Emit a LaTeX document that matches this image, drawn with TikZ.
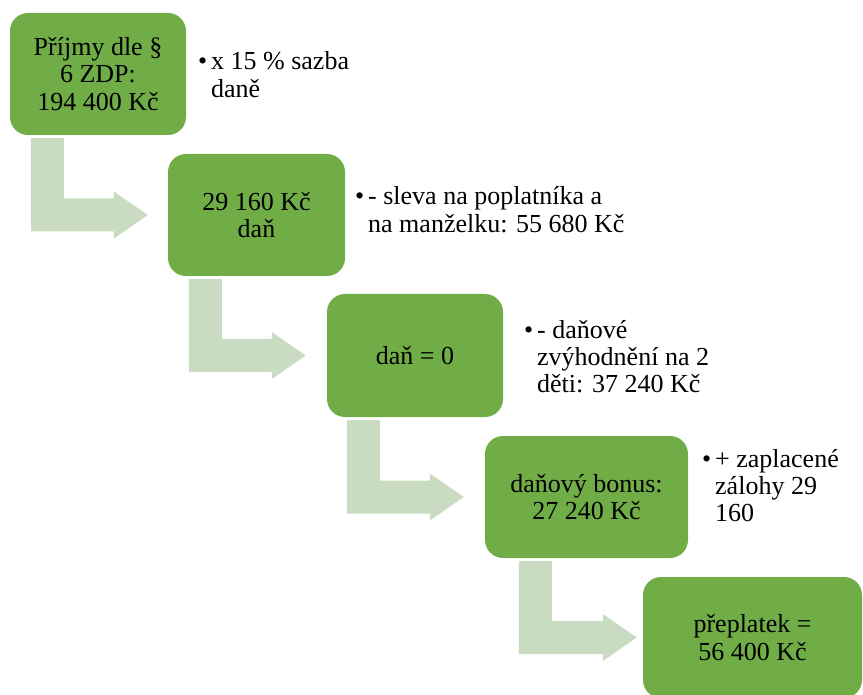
\documentclass[tikz,border=0pt]{standalone}
\usepackage{fontspec}
\setmainfont{Liberation Serif}
\usetikzlibrary{calc}

\definecolor{stepgreen}{HTML}{70AD47}
\definecolor{arrowtint}{HTML}{C9DCC1}

\tikzset{
  stepbox/.style={fill=stepgreen, rounded corners=18pt, inner sep=0pt,
    align=center, text=black, font=\fontsize{26}{27.5}\selectfont},
  note/.style={anchor=base west, inner sep=0pt, text=black,
    font=\fontsize{26}{27.5}\selectfont},
  bendfill/.style={fill=arrowtint}
}

% left-aligned lines whose baseline is the first line's
\newcommand\notelines[1]{\begin{tabular}[t]{@{}l@{}}#1\end{tabular}}
\newcommand\bul{\llap{\textbullet\hskip4pt}}

% bent block arrow: down from below #1, then right towards #2
% #3 = inset of the shaft from the left side of #1, #4 = gap before #2
\newcommand\bentarrow[4]{%
  \fill[bendfill] let \p1=(#1.south west), \p2=(#2.west) in
    (\x1+#3pt, \y1-3pt) -- (\x1+#3pt+33pt, \y1-3pt)
    -- (\x1+#3pt+33pt, \y2+16.5pt) -- (\x2-#4pt-34pt, \y2+16.5pt)
    -- (\x2-#4pt-34pt, \y2+23.5pt) -- (\x2-#4pt, \y2)
    -- (\x2-#4pt-34pt, \y2-23.5pt) -- (\x2-#4pt-34pt, \y2-16.5pt)
    -- (\x1+#3pt, \y2-16.5pt) -- cycle;}

\begin{document}
\begin{tikzpicture}[x=1pt, y=-1pt]
  \useasboundingbox (0,0) rectangle (863,695);
  \clip (0,0) rectangle (863,695);

  % process steps
  \node[stepbox, minimum width=176pt, minimum height=122pt] (s1) at (98,74)
    {Příjmy dle §\\6 ZDP:\\194 400 Kč};
  \node[stepbox, minimum width=177pt, minimum height=122pt] (s2) at (256.5,215)
    {29 160 Kč\\daň};
  \node[stepbox, minimum width=176pt, minimum height=123pt] (s3) at (415,355.5)
    {daň = 0};
  \node[stepbox, minimum width=203pt, minimum height=122pt] (s4) at (586.5,497)
    {daňový bonus:\\27 240 Kč};
  \node[stepbox, minimum width=219pt, minimum height=121pt] (s5) at (752.5,637.5)
    {přeplatek =\\56 400 Kč};

  % bent arrows between the steps
  \bentarrow{s1}{s2}{21}{20}
  \bentarrow{s2}{s3}{21}{21}
  \bentarrow{s3}{s4}{20}{21}
  \bentarrow{s4}{s5}{34}{6}

  % notes beside the steps
  \node[note] (n1) at (211,70)
    {\notelines{\bul x 15 \% sazba\\daně}};
  \node[note] (n2) at (368,205)
    {\notelines{\bul - sleva na poplatníka a\\na manželku: 55 680 Kč}};
  \node[note] (n3) at (537,338)
    {\notelines{\bul - daňové\\zvýhodnění na 2\\děti: 37 240 Kč}};
  \node[note] (n4) at (715,467)
    {\notelines{\bul + zaplacené\\zálohy 29\\160}};
\end{tikzpicture}
\end{document}
